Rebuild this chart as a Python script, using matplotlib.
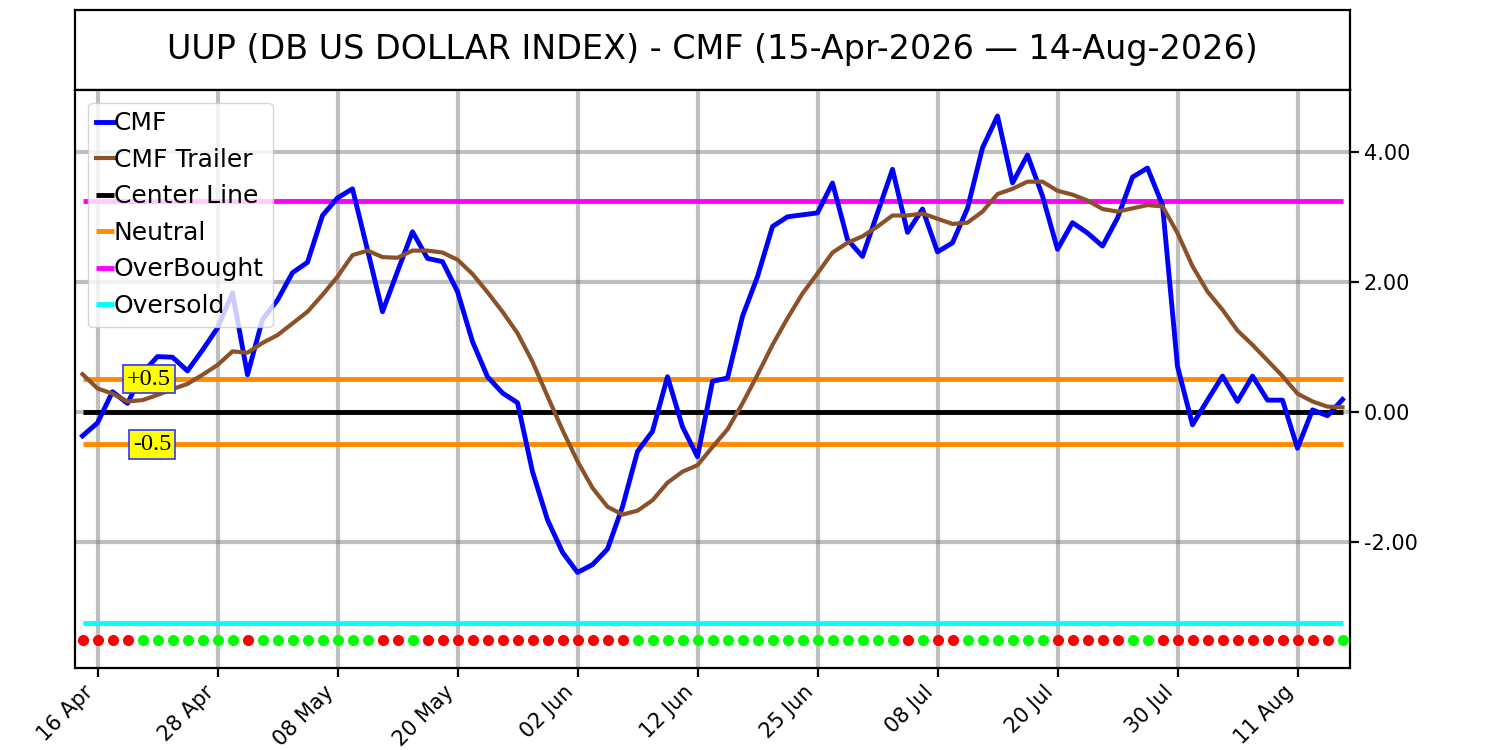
import numpy as np
import pandas as pd
import matplotlib

matplotlib.use("Agg")
import matplotlib.pyplot as plt
from matplotlib.ticker import FuncFormatter, FixedLocator

# ---- data ----
START, END = "2026-04-15", "2026-08-14"
HOLIDAYS = ["2026-05-25", "2026-06-19", "2026-07-03"]

cmf = [-0.37, -0.17, 0.31, 0.13, 0.60, 0.85, 0.84, 0.63, 0.95, 1.29,
       1.83, 0.57, 1.42, 1.72, 2.14, 2.30, 3.02, 3.29, 3.43, 2.49,
       1.54, 2.16, 2.77, 2.36, 2.31, 1.85, 1.08, 0.54, 0.29, 0.14,
       -0.92, -1.66, -2.16, -2.47, -2.35, -2.11, -1.46, -0.61, -0.30, 0.54,
       -0.23, -0.69, 0.47, 0.52, 1.47, 2.08, 2.85, 3.00, 3.03, 3.06,
       3.52, 2.65, 2.39, 3.06, 3.73, 2.76, 3.12, 2.46, 2.60, 3.13,
       4.06, 4.55, 3.52, 3.95, 3.32, 2.50, 2.91, 2.75, 2.55, 2.98,
       3.61, 3.75, 3.18, 0.70, -0.20, 0.18, 0.55, 0.16, 0.55, 0.18,
       0.18, -0.56, 0.03, -0.06, 0.19]

trailer = [0.58, 0.36, 0.28, 0.16, 0.18, 0.26, 0.35, 0.43, 0.57, 0.72,
           0.93, 0.91, 1.06, 1.18, 1.36, 1.54, 1.80, 2.08, 2.41, 2.48,
           2.38, 2.37, 2.48, 2.48, 2.45, 2.34, 2.12, 1.84, 1.54, 1.21,
           0.77, 0.24, -0.28, -0.76, -1.17, -1.46, -1.58, -1.52, -1.36, -1.09,
           -0.92, -0.82, -0.54, -0.27, 0.13, 0.57, 1.03, 1.44, 1.82, 2.13,
           2.45, 2.60, 2.70, 2.85, 3.02, 3.02, 3.05, 2.97, 2.89, 2.91,
           3.08, 3.35, 3.43, 3.54, 3.54, 3.40, 3.34, 3.25, 3.12, 3.08,
           3.13, 3.18, 3.16, 2.75, 2.24, 1.85, 1.57, 1.25, 1.03, 0.79,
           0.55, 0.28, 0.16, 0.08, 0.07]

# signal dots: 1 = green (bullish), 0 = red
signal = [0, 0, 0, 0, 1, 1, 1, 1, 1, 1,
          1, 0, 1, 1, 1, 1, 1, 1, 1, 1,
          0, 0, 1, 0, 0, 0, 0, 0, 0, 0,
          0, 0, 0, 0, 0, 0, 0, 1, 1, 1,
          1, 1, 1, 1, 1, 1, 1, 1, 1, 1,
          1, 1, 1, 1, 1, 0, 1, 0, 0, 1,
          1, 1, 1, 1, 1, 0, 0, 0, 0, 0,
          1, 1, 0, 0, 0, 0, 0, 0, 0, 0,
          0, 0, 0, 0, 1]

OVERBOUGHT = 3.25
OVERSOLD = -3.25
NEUTRAL = 0.5
CENTER = 0.0
DOT_LEVEL = -3.51
Y_TICKS = [-2.0, 0.0, 2.0, 4.0]
TICK_EVERY = 8

dates = pd.bdate_range(START, END, freq="C", holidays=HOLIDAYS)
x = np.arange(len(dates))

BLUE = "#0000ff"
BROWN = "#8b5128"
ORANGE = "#ff8c00"
MAGENTA = "#ff00ff"
CYAN = "#00ffff"

plt.rcParams.update({"xtick.labelsize": 15, "ytick.labelsize": 15})

fig = plt.figure(figsize=(15, 7.5), dpi=100)
tax = fig.add_axes([0.05, 0.88, 0.85, 0.1067])
ax = fig.add_axes([0.05, 0.1093, 0.85, 0.7707])

# title box
tax.set_xticks([]); tax.set_yticks([])
for s in tax.spines.values():
    s.set_linewidth(1.6)
tax.text(0.5, 0.5, f"UUP (DB US DOLLAR INDEX) - CMF ({dates[0]:%d-%b-%Y} \u2014 {dates[-1]:%d-%b-%Y})",
         transform=tax.transAxes, ha="center", va="center", fontsize=24)

ax.plot(x, cmf, color=BLUE, lw=3.5, label="CMF", zorder=4)
ax.plot(x, trailer, color=BROWN, lw=3, label="CMF Trailer", zorder=4)
ax.hlines(CENTER, x[0], x[-1], color="black", lw=3.5, label="Center Line", zorder=3)
ax.hlines([NEUTRAL, -NEUTRAL], x[0], x[-1], color=ORANGE, lw=3.5, label="Neutral", zorder=3)
ax.hlines(OVERBOUGHT, x[0], x[-1], color=MAGENTA, lw=3.5, label="OverBought", zorder=3)
ax.hlines(OVERSOLD, x[0], x[-1], color=CYAN, lw=3.5, label="Oversold", zorder=3)

sig = np.array(signal)
ax.plot(x[sig == 1], np.full((sig == 1).sum(), DOT_LEVEL), "o", color="#00ff00", ms=8, mew=0, zorder=5)
ax.plot(x[sig == 0], np.full((sig == 0).sum(), DOT_LEVEL), "o", color="#ff0000", ms=8, mew=0, zorder=5)

box = dict(boxstyle="square,pad=0.15", facecolor="yellow", edgecolor="#3333ff", lw=1.2)
ax.text(5.9, NEUTRAL, "+0.5", ha="right", va="center", fontsize=17.5,
        family="Liberation Serif", bbox=box, zorder=6)
ax.text(5.9, -NEUTRAL, "-0.5", ha="right", va="center", fontsize=17.5,
        family="Liberation Serif", bbox=box, zorder=6)

ax.set_xlim(-0.5, len(x) - 0.5)
ax.set_ylim(-3.94, 4.95)

tick_pos = x[1::TICK_EVERY]
ax.xaxis.set_major_locator(FixedLocator(tick_pos))
ax.set_xticklabels([f"{dates[i]:%d %b}" for i in tick_pos], rotation=45, ha="right")
ax.yaxis.tick_right()
ax.yaxis.set_major_locator(FixedLocator(Y_TICKS))
ax.yaxis.set_major_formatter(FuncFormatter(lambda v, _: f"{v:.2f}"))
ax.tick_params(axis="both", width=1.6, length=6.5)
ax.grid(True, color="gray", alpha=0.5, lw=3, zorder=0)
ax.set_axisbelow(True)
for s in ax.spines.values():
    s.set_linewidth(1.6)

ax.legend(loc="upper left", fontsize=18, handlelength=0.7, handletextpad=0.0,
          labelspacing=0.5, borderpad=0.35, framealpha=0.8)

fig.savefig("out.png", dpi=100)
